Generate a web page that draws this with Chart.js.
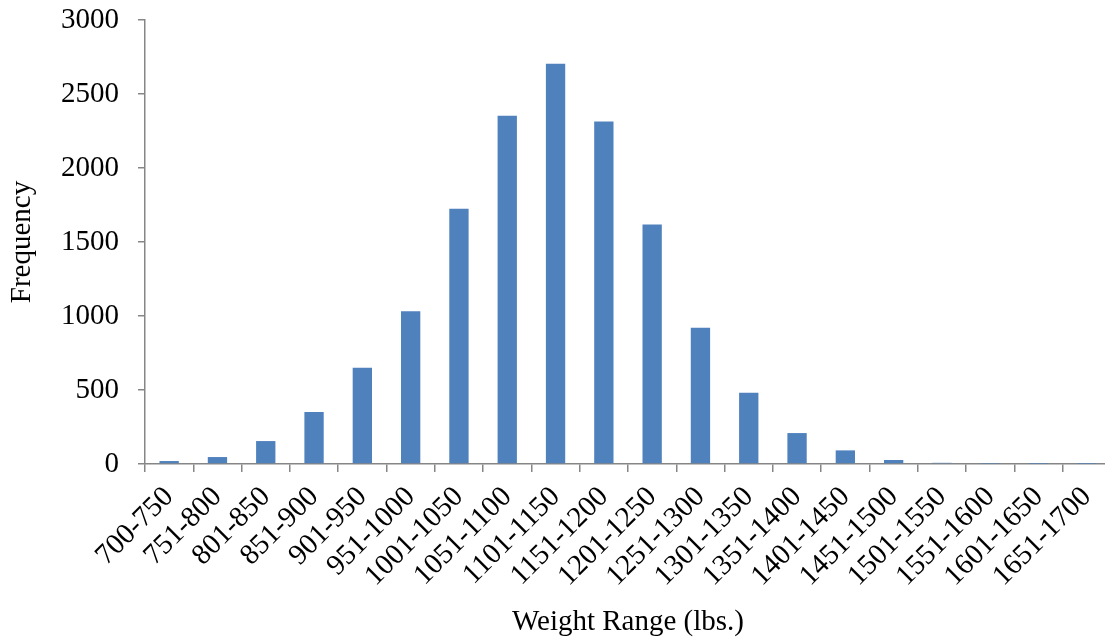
<!DOCTYPE html>
<html>
<head>
<meta charset="utf-8">
<script src="https://cdn.jsdelivr.net/npm/chart.js@4"></script>
<style>
  html, body { margin: 0; padding: 0; background: #fff; overflow: hidden; }
  #wrap { position: relative; width: 1112px; height: 640px; }
</style>
</head>
<body>
<div id="wrap"><canvas id="histChart"></canvas></div>
<script>
// Weight distribution histogram
const weightRanges = ['700-750', '751-800', '801-850', '851-900', '901-950', '951-1000',
    '1001-1050', '1051-1100', '1101-1150', '1151-1200', '1201-1250', '1251-1300',
    '1301-1350', '1351-1400', '1401-1450', '1451-1500', '1501-1550', '1551-1600',
    '1601-1650', '1651-1700'];
const frequencies = [20, 47, 155, 352, 650, 1032, 1725, 2353, 2705, 2315, 1618, 920,
    482, 209, 92, 27, 8, 2, 1, 1];
const yTicks = [0, 500, 1000, 1500, 2000, 2500, 3000];

const axisGray = '#868686';
const serif = 'Liberation Serif, Times New Roman, serif';

window.initializeChart = () => {
    const ctx = document.getElementById('histChart');
    if (!ctx) return;

    new Chart(ctx, {
        type: 'bar',
        data: {
            labels: weightRanges,
            datasets: [{
                data: frequencies,
                backgroundColor: '#4F81BD',
                borderWidth: 0,
                barPercentage: 0.4,
                categoryPercentage: 1.0
            }]
        },
        options: {
            responsive: true,
            maintainAspectRatio: false,
            animation: false,
            layout: { padding: { top: 20, right: 1, left: 0, bottom: 0 } },
            plugins: {
                legend: { display: false },
                tooltip: { enabled: false }
            },
            scales: {
                x: {
                    grid: {
                        display: true,
                        drawOnChartArea: false,
                        drawTicks: true,
                        tickLength: 8,
                        color: axisGray,
                        lineWidth: 1.5,
                        offset: true
                    },
                    border: { color: axisGray, width: 1.5 },
                    ticks: {
                        color: '#000',
                        font: { family: serif, size: 29 },
                        minRotation: 45,
                        maxRotation: 45,
                        autoSkip: false,
                        padding: 8
                    },
                    title: {
                        display: true,
                        text: 'Weight Range (lbs.)',
                        color: '#000',
                        font: { family: serif, size: 29 },
                        padding: { top: 0, bottom: 0 }
                    },
                    afterFit: scale => {
                        scale.height = 176;
                        scale.paddingLeft = 0;
                        scale.paddingRight = 0;
                    }
                },
                y: {
                    min: 0,
                    max: 3000,
                    afterBuildTicks: scale => {
                        scale.ticks = yTicks.map(v => ({ value: v }));
                    },
                    grid: {
                        display: true,
                        drawOnChartArea: false,
                        drawTicks: true,
                        tickLength: 7,
                        color: axisGray,
                        lineWidth: 1.5
                    },
                    border: { color: axisGray, width: 1.5 },
                    ticks: {
                        color: '#000',
                        font: { family: serif, size: 29 },
                        padding: 19,
                        callback: v => String(v)
                    },
                    title: {
                        display: true,
                        text: 'Frequency',
                        color: '#000',
                        font: { family: serif, size: 29 },
                        padding: { top: 5, bottom: 0 }
                    },
                    afterFit: scale => {
                        scale.width = 145;
                        scale.paddingTop = 0;
                        scale.paddingBottom = 0;
                    }
                }
            }
        }
    });
};

document.addEventListener('DOMContentLoaded', initializeChart);
</script>
</body>
</html>
